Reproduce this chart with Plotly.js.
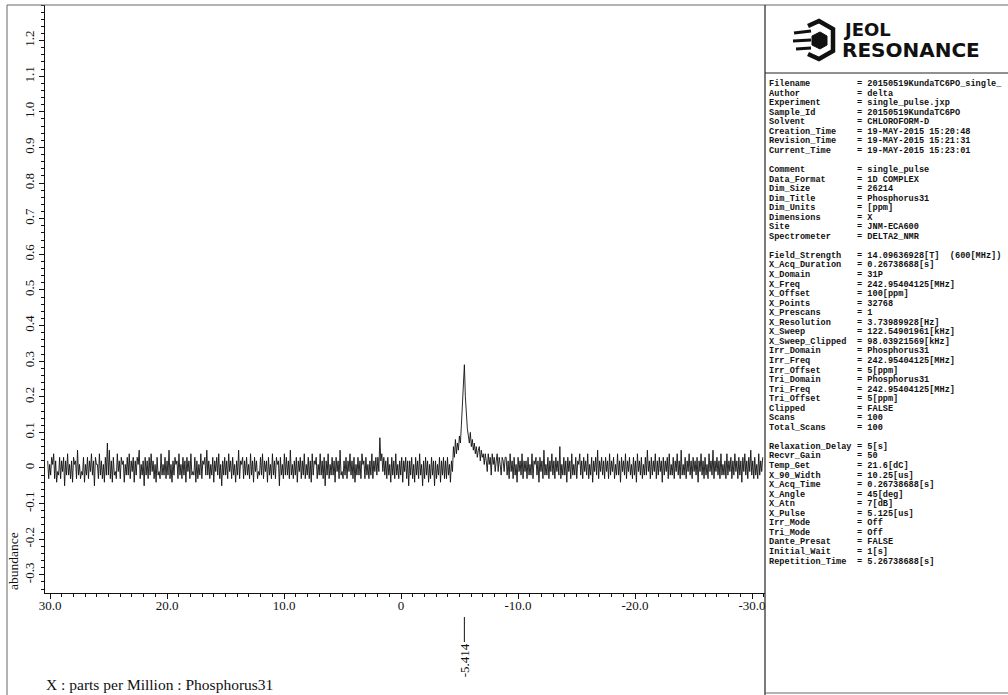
<!DOCTYPE html>
<html><head><meta charset="utf-8">
<script src="https://cdn.plot.ly/plotly-3.0.1.min.js"></script>
<style>html,body{margin:0;padding:0;background:#fff;overflow:hidden}#chart{width:1008px;height:695px}</style>
</head><body><div id="chart"></div>
<script>
// ---- data ----
const ppmStart = 30.2;     // first point (ppm)
const ppmStep = 0.085;     // spacing between points (ppm)
const abundance = [
.02,-.03,.01,-.02,.03,.01,.04,-.03,.02,-.04,-.01,-.02,.03,-.03,.02,-.01,.03,-.05,.02,-.02,
.04,-.02,.01,-.03,.02,-.04,.03,.01,.02,-.03,.05,-.02,.01,-.03,-.01,-.02,.03,-.04,.01,-.02,
.03,-.03,.02,-.01,.04,-.02,.02,-.05,.03,.01,.01,-.03,.04,-.02,.02,-.03,.01,-.04,.03,-.02,
.07,-.02,.05,-.03,.02,-.04,.03,-.02,-.01,-.03,.04,-.01,.02,-.03,.03,.01,.02,-.04,.01,-.02,
.03,-.02,.04,-.03,.02,-.01,.03,-.04,.02,-.02,.03,.01,.05,-.03,.01,-.02,.02,-.05,.03,-.02,
.02,-.03,.03,-.02,.04,-.01,.02,-.03,.01,-.04,.03,-.02,-.01,-.03,.04,-.02,.01,-.02,.03,-.03,
.02,-.02,.05,-.03,.01,-.04,.02,-.02,.03,.01,.02,-.03,.04,-.02,.01,-.03,.03,-.02,.02,-.04,
.03,-.01,.02,-.03,.04,-.02,-.01,-.02,.03,-.04,.02,-.03,.01,-.02,.04,-.03,.02,.01,.03,-.02,
.05,-.02,.02,-.03,.01,-.02,.03,-.04,.02,-.01,.03,-.02,.04,-.03,.01,-.05,.02,-.02,.03,-.02,
.02,-.03,.04,-.01,.02,-.03,.03,-.02,.01,-.04,.02,-.02,.05,-.03,.02,.01,.03,-.03,.02,-.02,
.03,-.02,.01,-.03,.04,-.02,.02,-.04,.03,-.01,.02,-.03,-.01,-.02,.03,-.02,.04,-.03,.02,-.01,
.02,-.04,.03,-.02,.01,-.03,.04,-.02,.02,-.03,.03,.01,.02,-.05,.03,-.02,.01,-.03,.04,-.02,
.03,-.02,.02,-.03,.05,-.02,.01,-.03,.02,-.02,.03,-.04,.02,-.01,.03,-.03,.02,-.02,.04,-.03,
.01,-.02,.03,-.03,.02,-.04,.04,-.02,.02,.01,.03,-.03,.01,-.02,.04,-.02,.02,-.03,.03,-.05,
.02,-.02,.04,-.03,.01,-.02,.03,-.02,.02,-.04,.03,-.01,.02,-.03,.05,-.02,-.01,-.03,.02,-.02,
.03,-.03,.02,-.01,.04,-.02,.02,-.03,.03,-.04,.01,-.02,.03,-.02,.02,-.03,.04,.01,.02,-.03,
.03,-.02,.01,-.03,.02,-.02,.04,-.03,.02,-.01,.03,-.02,.03,-.01,.085,.02,.04,-.01,.03,-.02,
.02,-.03,.03,-.02,.01,-.04,.03,-.02,.02,-.03,.04,-.02,.01,-.03,.02,-.02,.03,-.04,.02,-.01,
.03,-.03,.02,-.05,.02,-.02,.03,-.03,.01,-.04,.03,-.02,.02,-.03,.04,-.02,.01,-.05,.02,-.03,
.03,-.02,.02,-.04,.01,-.03,.03,-.02,.02,-.05,.02,-.03,.01,-.02,.03,-.04,.02,-.02,.03,-.03,
.02,-.03,.03,-.02,.01,-.04,.02,-.01,
.06,.03,.08,.04,.07,.05,.09,.07,
.12,.17,.24,.29,.20,.14,.11,
.09,.07,.10,.06,.08,.05,.07,.04,.06,.03,.05,.06,.02,.05,.03,.04,.01,.04,
.02,-.01,.04,.01,.03,-.02,.04,.01,.03,-.01,.02,.04,-.01,.03,.01,-.02,.03,.02,-.01,.03,
.03,-.02,.02,-.03,.04,-.01,.02,-.03,.03,-.02,.01,-.04,.03,-.01,.02,-.02,.04,-.03,.02,-.01,
.02,-.03,.03,-.02,.01,-.02,.04,-.03,.02,.01,.03,-.02,.02,-.04,.03,-.01,.02,-.03,.05,-.02,
.01,-.02,.03,-.03,.02,-.01,.04,-.02,.02,-.03,.03,-.01,.02,-.02,.06,-.03,.01,-.02,.03,-.02,
.02,-.04,.03,-.01,.02,-.03,.04,-.02,.01,-.02,.03,-.03,.02,.01,.04,-.02,.02,-.03,.03,-.01,
.02,-.02,.04,-.03,.01,-.02,.03,-.04,.02,-.01,.03,-.02,.05,-.03,.02,-.01,.03,-.02,.02,-.03,
.03,-.01,.02,-.03,.04,-.02,.02,-.01,.03,-.03,.01,-.02,.04,-.02,.02,-.04,.03,-.01,.02,-.02,
.04,-.03,.02,-.01,.03,-.02,.01,-.03,.03,-.02,.02,-.04,.04,-.01,.02,-.02,.03,-.03,.01,-.02,
.03,-.02,.05,-.01,.02,-.03,.03,-.02,.02,-.01,.04,-.03,.02,-.02,.03,-.01,.02,-.04,.03,-.02,
.02,-.01,.03,-.03,.04,-.02,.01,-.02,.03,-.03,.02,-.01,.04,-.02,.02,-.03,.05,-.02,.01,-.02,
.03,-.03,.02,-.01,.04,-.02,.02,-.03,.03,-.01,.02,-.02,.03,-.04,.02,-.01,.04,-.02,.02,-.03,
.03,-.02,.01,-.03,.04,-.01,.02,-.02,.05,-.03,.02,-.01,.03,-.02,.02,-.03,.04,-.02,.01,-.02,
.02,-.03,.04,-.02,.02,-.01,.03,-.03,.02,-.02,.04,-.01,.02,-.03,.03,-.02,.02,-.04,.03,-.01,
.04,-.02,.02,-.03,.03,-.01,.05,-.02,.02,-.03,.03,-.02,.01,-.03,.04,-.02,.02,-.01,.03
];
const xTickVals = [30, 20, 10, 0, -10, -20, -30];
const xTickText = ["30.0", "20.0", "10.0", "0", "-10.0", "-20.0", "-30.0"];
const yTickVals = [-0.3, -0.2, -0.1, 0, 0.1, 0.2, 0.3, 0.4, 0.5, 0.6, 0.7, 0.8, 0.9, 1.0, 1.1, 1.2];
const yTickText = ["-0.3", "-0.2", "-0.1", "0", "0.1", "0.2", "0.3", "0.4", "0.5", "0.6", "0.7", "0.8", "0.9", "1.0", "1.1", "1.2"];
const peakPpm = -5.414;
const peakLabel = "-5.414";
const xAxisLabel = "X : parts per Million : Phosphorus31";
const yAxisLabel = "abundance";
const logoTop = "JEOL";
const logoBottom = "RESONANCE";
const paramNames = ["Filename","Author","Experiment","Sample_Id","Solvent","Creation_Time","Revision_Time","Current_Time","",
 "Comment","Data_Format","Dim_Size","Dim_Title","Dim_Units","Dimensions","Site","Spectrometer","",
 "Field_Strength","X_Acq_Duration","X_Domain","X_Freq","X_Offset","X_Points","X_Prescans","X_Resolution","X_Sweep","X_Sweep_Clipped",
 "Irr_Domain","Irr_Freq","Irr_Offset","Tri_Domain","Tri_Freq","Tri_Offset","Clipped","Scans","Total_Scans","",
 "Relaxation_Delay","Recvr_Gain","Temp_Get","X_90_Width","X_Acq_Time","X_Angle","X_Atn","X_Pulse","Irr_Mode","Tri_Mode","Dante_Presat","Initial_Wait","Repetition_Time"];
const paramValues = ["20150519KundaTC6PO_single_","delta","single_pulse.jxp","20150519KundaTC6PO","CHLOROFORM-D","19-MAY-2015 15:20:48","19-MAY-2015 15:21:31","19-MAY-2015 15:23:01","",
 "single_pulse","1D COMPLEX","26214","Phosphorus31","[ppm]","X","JNM-ECA600","DELTA2_NMR","",
 "14.09636928[T]\u00a0\u00a0(600[MHz])","0.26738688[s]","31P","242.95404125[MHz]","100[ppm]","32768","1","3.73989928[Hz]","122.54901961[kHz]","98.03921569[kHz]",
 "Phosphorus31","242.95404125[MHz]","5[ppm]","Phosphorus31","242.95404125[MHz]","5[ppm]","FALSE","100","100","",
 "5[s]","50","21.6[dC]","10.25[us]","0.26738688[s]","45[deg]","7[dB]","5.125[us]","Off","Off","FALSE","1[s]","5.26738688[s]"];

// ---- page geometry helpers (pixel -> paper) ----
const W = 1008, H = 695;
const px = v => v / W;
const py = v => 1 - v / H;

const ppm = abundance.map((_, i) => ppmStart - i * ppmStep);

const serif = "Liberation Serif, Times New Roman, serif";
const mono = "Liberation Mono, Courier New, monospace";

const trace = {
  type: "scatter", mode: "lines", x: ppm, y: abundance,
  line: {color: "#111", width: 0.9}, hoverinfo: "skip"
};

const annotations = [];
annotations.push({xref: "paper", yref: "paper", x: px(44), y: py(684), xanchor: "left", yanchor: "middle",
  text: xAxisLabel, showarrow: false, font: {family: serif, size: 15.5, color: "#111"}});
annotations.push({xref: "paper", yref: "paper", x: px(13), y: py(592), xanchor: "center", yanchor: "bottom",
  textangle: -90, text: yAxisLabel, showarrow: false, font: {family: serif, size: 13.5, color: "#111"}});
annotations.push({xref: "x", yref: "paper", x: peakPpm, y: py(660), xanchor: "center", yanchor: "middle",
  textangle: -90, text: peakLabel, showarrow: false, font: {family: serif, size: 13, color: "#111"}});
annotations.push({xref: "paper", yref: "paper", x: px(842), y: py(30), xanchor: "left", yanchor: "middle",
  text: "<b>" + logoTop + "</b>", showarrow: false, borderpad: 0, font: {family: "DejaVu Sans, sans-serif", size: 18, color: "#111"}});
annotations.push({xref: "paper", yref: "paper", x: px(841), y: py(50), xanchor: "left", yanchor: "middle",
  text: "<b>" + logoBottom + "</b>", showarrow: false, borderpad: 0, font: {family: "DejaVu Sans, sans-serif", size: 20, color: "#111"}});
paramNames.forEach((n, i) => {
  if (!n) return;
  const yy = py(84 + i * 9.55);
  annotations.push({xref: "paper", yref: "paper", x: px(767), y: yy, xanchor: "left", yanchor: "middle",
    text: n, showarrow: false, font: {family: mono, size: 8.6, color: "#111", weight: "bold"}});
  annotations.push({xref: "paper", yref: "paper", x: px(855), y: yy, xanchor: "left", yanchor: "middle",
    text: "= " + paramValues[i], showarrow: false, font: {family: mono, size: 8.6, color: "#111", weight: "bold"}});
});

const P = (pts) => "M" + pts.map(p => px(p[0]).toFixed(5) + "," + py(p[1]).toFixed(5)).join(" L");
const frame = {color: "#666", width: 1};
const shapes = [
  {type: "line", xref: "x", yref: "paper", x0: peakPpm, x1: peakPpm, y0: py(617), y1: py(642), line: {color: "#111", width: 1}},
  {type: "line", xref: "paper", yref: "paper", x0: px(7), x1: 1, y0: py(5), y1: py(5), line: frame},
  {type: "line", xref: "paper", yref: "paper", x0: px(7), x1: px(7), y0: py(5), y1: 0, line: frame},
  {type: "line", xref: "paper", yref: "paper", x0: px(765), x1: px(765), y0: py(5), y1: 0, line: {color: "#222", width: 1.2}},
  {type: "line", xref: "paper", yref: "paper", x0: px(765), x1: 1, y0: py(73), y1: py(73), line: {color: "#222", width: 1}},
  {type: "line", xref: "paper", yref: "paper", x0: px(765), x1: 1, y0: py(693), y1: py(693), line: frame},
  // logo mark
  {type: "path", xref: "paper", yref: "paper", path: P([[808,26],[819,21],[833,29],[833,51],[819,59],[808,54]]), line: {color: "#111", width: 4.5}},
  {type: "path", xref: "paper", yref: "paper", path: P([[812,36],[820,32],[827,36],[827,45],[820,49],[812,45]]) + " Z", fillcolor: "#111", line: {color: "#111", width: 1}},
  {type: "path", xref: "paper", yref: "paper", path: P([[794,33],[811,31]]), line: {color: "#111", width: 3}},
  {type: "path", xref: "paper", yref: "paper", path: P([[793,41],[811,40]]), line: {color: "#111", width: 3}},
  {type: "path", xref: "paper", yref: "paper", path: P([[796,49],[811,48]]), line: {color: "#111", width: 3}}
];

const layout = {
  width: W, height: H, margin: {l: 0, r: 0, t: 0, b: 0},
  paper_bgcolor: "#fff", plot_bgcolor: "rgba(0,0,0,0)", showlegend: false,
  xaxis: {
    domain: [px(45), px(765)], range: [30.43, -31.11], anchor: "y",
    showgrid: false, zeroline: false, showline: true, linecolor: "#111", linewidth: 1,
    ticks: "outside", ticklen: 5, tickcolor: "#111", tickwidth: 1,
    tickmode: "array", tickvals: xTickVals, ticktext: xTickText,
    ticklabelstandoff: -5,
    tickfont: {family: serif, size: 13, color: "#111"},
    minor: {dtick: 1, tick0: 0, ticklen: 3, ticks: "outside", tickcolor: "#111", showgrid: false}
  },
  yaxis: {
    domain: [py(593), py(5)], range: [-0.351, 1.30], anchor: "x",
    showgrid: false, zeroline: false, showline: true, linecolor: "#111", linewidth: 1,
    ticks: "outside", ticklen: 5, tickcolor: "#111", tickwidth: 1, tickangle: -90,
    tickmode: "array", tickvals: yTickVals, ticktext: yTickText,
    tickfont: {family: serif, size: 13, color: "#111"},
    minor: {dtick: 0.02, tick0: 0, ticklen: 3, ticks: "outside", tickcolor: "#111", showgrid: false}
  },
  shapes: shapes,
  annotations: annotations
};

Plotly.newPlot("chart", [trace], layout, {staticPlot: true, displayModeBar: false});
</script>
</body></html>
